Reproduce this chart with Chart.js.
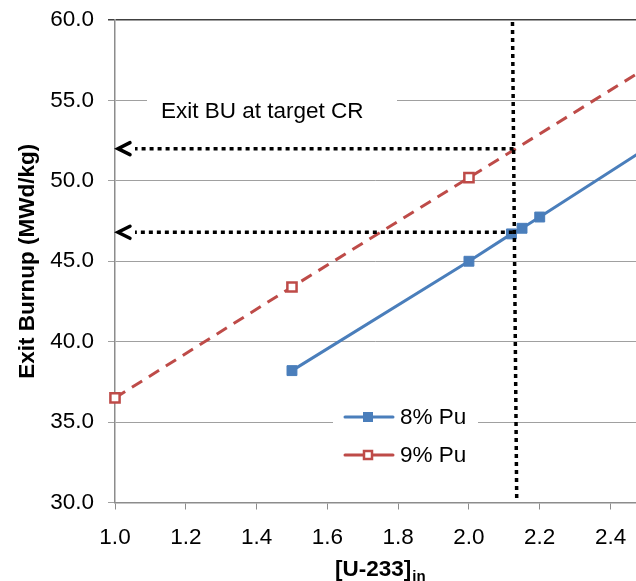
<!DOCTYPE html>
<html>
<head>
<meta charset="utf-8">
<script src="https://cdn.jsdelivr.net/npm/chart.js@4.4.0/dist/chart.umd.min.js"></script>
<style>
  html, body { margin: 0; padding: 0; background: #fff; }
  #wrap { width: 636px; height: 581px; overflow: hidden; position: relative; }
  #inner { width: 800px; height: 581px; }
</style>
</head>
<body>
<div id="wrap"><div id="inner"></div></div>
<script>
  // Series (last point of each is the line running off the right edge)
  const pu8X = [1.5, 2.0, 2.12, 2.15, 2.2, 2.5];
  const pu8Y = [38.2, 45.0, 46.7, 47.05, 47.75, 52.0];
  const pu8Marked = [true, true, true, true, true, false];

  const pu9X = [1.0, 1.5, 2.0, 2.5];
  const pu9Y = [36.5, 43.4, 50.2, 57.0];
  const pu9Marked = [true, true, true, false];

  const seriesLabels = ["8% Pu", "9% Pu"];

  // Target-CR guide: dotted vertical (top x, bottom x) and burnup arrows
  const targetU233 = [2.123, 2.135];
  const targetBU = [52.0, 46.8];
  const noteText = "Exit BU at target CR";

  const FONT = "'Liberation Sans', Arial, sans-serif";
  const BLUE = "#4A7EBB";
  const RED = "#BE4B48";
  const VIEW_W = 636;

  const toPoints = (xs, ys) => xs.map((x, i) => ({ x: x, y: ys[i] }));

  function drawMarker(ctx, idx, x, y) {
    const s = 10;
    if (idx === 0) {
      ctx.fillStyle = BLUE;
      ctx.fillRect(x - s / 2, y - s / 2, s, s);
    } else {
      ctx.fillStyle = "#fff";
      ctx.strokeStyle = RED;
      ctx.lineWidth = 2.5;
      ctx.fillRect(x - s / 2, y - s / 2, s, s);
      ctx.strokeRect(x - s / 2 + 1, y - s / 2 + 1, s - 2, s - 2);
    }
  }

  const overlay = {
    id: "overlay",
    afterDatasetsDraw(chart) {
      const ctx = chart.ctx;
      const xs = chart.scales.x, ys = chart.scales.y;
      ctx.save();

      // note box
      ctx.fillStyle = "#fff";
      ctx.fillRect(147, 88, 250, 44);
      ctx.fillStyle = "#000";
      ctx.font = "22.5px " + FONT;
      ctx.textBaseline = "middle";
      ctx.textAlign = "left";
      ctx.fillText(noteText, 161, 112);

      // dotted vertical at target
      ctx.strokeStyle = "#000";
      ctx.lineWidth = 3.5;
      ctx.setLineDash([4, 4]);
      const vTop = ys.getPixelForValue(60), vBot = ys.getPixelForValue(30.15);
      const xTop = xs.getPixelForValue(targetU233[0]), xBot = xs.getPixelForValue(targetU233[1]);
      ctx.beginPath();
      ctx.moveTo(xTop, vTop + 2);
      ctx.lineTo(xBot, vBot);
      ctx.stroke();

      // arrows to the y axis
      const tipX = xs.getPixelForValue(1.0) + 2;
      targetBU.forEach(v => {
        const py = ys.getPixelForValue(v);
        const f = (vTop - py) / (vTop - vBot);
        const endX = xTop + (xBot - xTop) * (1 - f) - 2;
        ctx.setLineDash([4, 4]);
        ctx.lineWidth = 3.5;
        ctx.beginPath();
        ctx.moveTo(endX, py);
        ctx.lineTo(tipX + 18, py);
        ctx.stroke();
        ctx.setLineDash([]);
        ctx.lineCap = "round";
        ctx.beginPath();
        ctx.moveTo(tipX + 13, py - 6);
        ctx.lineTo(tipX + 1, py);
        ctx.lineTo(tipX + 13, py + 6);
        ctx.stroke();
        ctx.lineCap = "butt";
      });

      // legend
      ctx.setLineDash([]);
      ctx.fillStyle = "#fff";
      ctx.fillRect(333, 400, 145, 72);
      chart.data.datasets.forEach((ds, i) => {
        const ly = 417 + i * 38;
        ctx.strokeStyle = ds.borderColor;
        ctx.lineWidth = 3;
        ctx.lineCap = "round";
        ctx.beginPath();
        ctx.moveTo(345, ly);
        ctx.lineTo(393, ly);
        ctx.stroke();
        ctx.lineCap = "butt";
        drawMarker(ctx, i, 368, ly);
        ctx.fillStyle = "#000";
        ctx.font = "22.5px " + FONT;
        ctx.textBaseline = "middle";
        ctx.fillText(ds.label, 400, ly + 1);
      });

      ctx.restore();
    },
    afterDraw(chart) {
      // x-axis title with subscript
      const ctx = chart.ctx;
      ctx.save();
      ctx.fillStyle = "#000";
      ctx.textBaseline = "alphabetic";
      ctx.textAlign = "left";
      ctx.font = "bold 22.5px " + FONT;
      const main = "[U-233]";
      const w = ctx.measureText(main).width;
      ctx.fillText(main, 335, 576);
      ctx.font = "bold 15px " + FONT;
      ctx.fillText("in", 335 + w + 1, 581);
      ctx.restore();
    }
  };

  function makeConfig() {
    return {
      type: "scatter",
      data: {
        datasets: [
          {
            label: seriesLabels[0],
            data: toPoints(pu8X, pu8Y),
            showLine: true,
            borderColor: BLUE,
            backgroundColor: BLUE,
            borderWidth: 3,
            pointStyle: "rect",
            pointRadius: pu8Marked.map(m => (m ? 7 : 0)),
            pointBorderWidth: 1,
            pointBorderColor: BLUE,
            clip: false
          },
          {
            label: seriesLabels[1],
            data: toPoints(pu9X, pu9Y),
            showLine: true,
            borderColor: RED,
            backgroundColor: "#fff",
            borderWidth: 3,
            borderDash: [12, 8],
            pointStyle: "rect",
            pointRadius: pu9Marked.map(m => (m ? 6.5 : 0)),
            pointBorderWidth: 2.5,
            pointBorderColor: RED,
            clip: false
          }
        ]
      },
      options: {
        responsive: false,
        animation: false,
        layout: { padding: { top: 20, left: 0, right: 0, bottom: 0 } },
        plugins: { legend: { display: false }, tooltip: { enabled: false } },
        scales: {
          x: {
            type: "linear",
            bounds: "data",
            min: 1.0,
            max: 2.472,
            afterFit: s => { s.height = 78.5; s.paddingLeft = 0; s.paddingRight = 0; },
            border: { color: "#8C8C8C", width: 1.5 },
            grid: { drawOnChartArea: false, drawTicks: true, tickLength: 7, color: "#8C8C8C" },
            ticks: {
              stepSize: 0.2,
              includeBounds: false,
              padding: 15,
              color: "#000",
              font: { family: FONT, size: 22.5 },
              maxRotation: 0,
              callback: v => v.toFixed(1)
            }
          },
          y: {
            min: 30,
            max: 60,
            afterFit: s => { s.width = 115; s.paddingTop = 0; s.paddingBottom = 0; },
            border: { color: "#8C8C8C", width: 1.5 },
            grid: {
              tickLength: 7,
              color: c => (c.tick && c.tick.value === 60 ? "#404040" : "#A0A0A0"),
              lineWidth: c => (c.tick && c.tick.value === 60 ? 1.5 : 1)
            },
            ticks: {
              stepSize: 5,
              padding: 14,
              color: "#000",
              font: { family: FONT, size: 22.5 },
              callback: v => v.toFixed(1)
            },
            title: {
              display: true,
              text: "Exit Burnup (MWd/kg)",
              color: "#000",
              font: { family: FONT, size: 22.5, weight: "bold" },
              padding: { top: 14, bottom: 0 }
            }
          }
        }
      },
      plugins: [overlay]
    };
  }

  // the plot runs off the right edge of the picture, so widen the canvas
  // until the chart area reaches the view edge
  const holder = document.getElementById("inner");
  function build(w) {
    holder.innerHTML = "";
    const cv = document.createElement("canvas");
    cv.width = w;
    cv.height = 581;
    holder.appendChild(cv);
    return new Chart(cv, makeConfig());
  }

  let canvasW = VIEW_W;
  let chart = build(canvasW);
  for (let k = 0; k < 3; k++) {
    const gap = VIEW_W - chart.chartArea.right;
    if (Math.abs(gap) < 0.5) break;
    chart.destroy();
    canvasW = Math.round(canvasW + gap);
    chart = build(canvasW);
  }
</script>
</body>
</html>
